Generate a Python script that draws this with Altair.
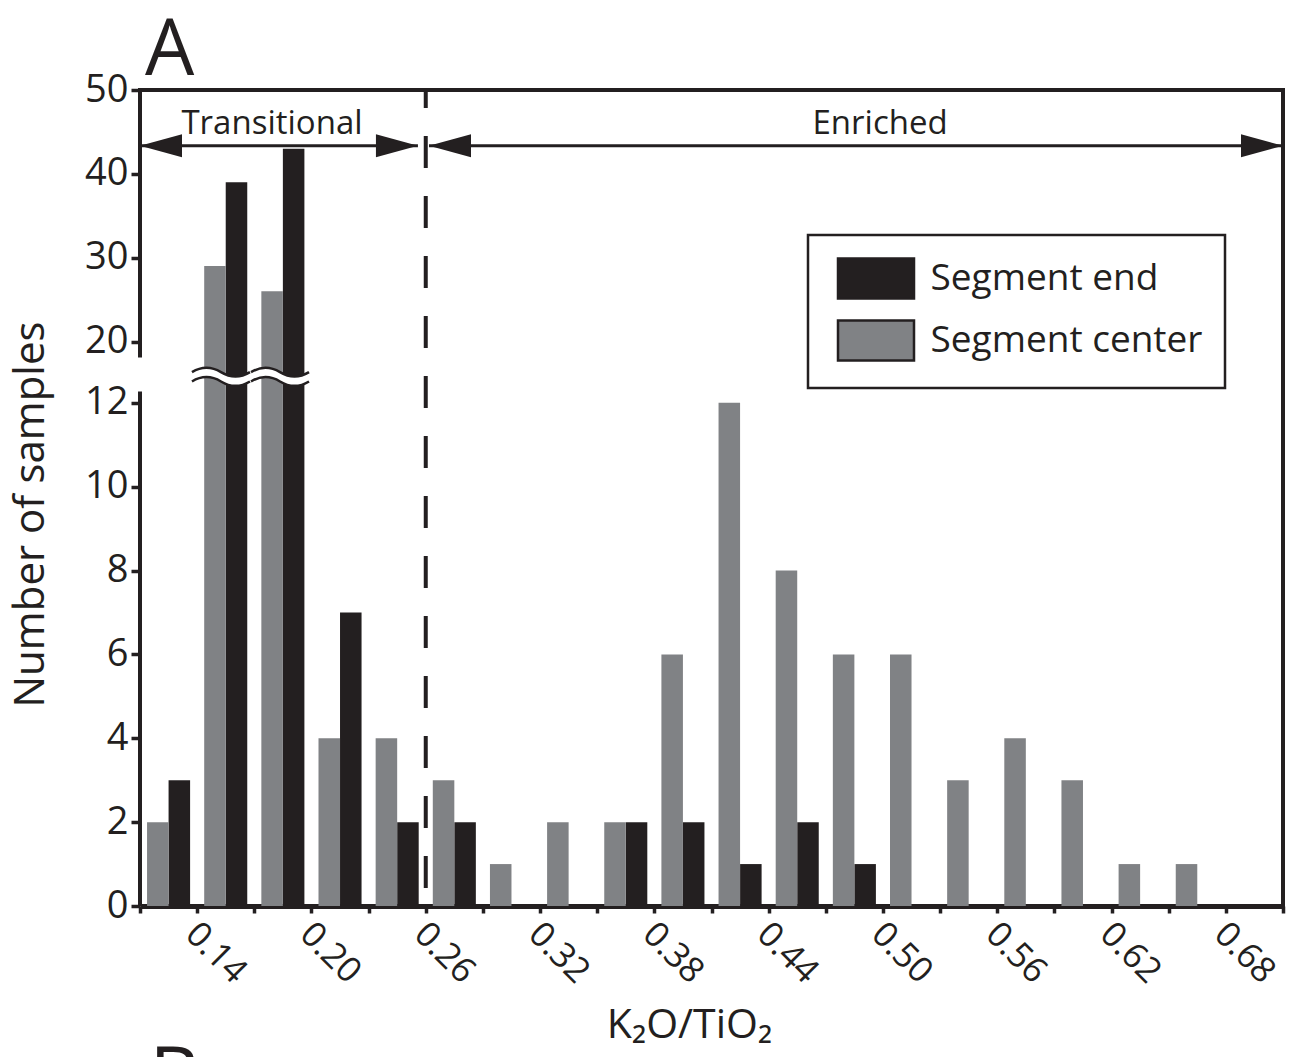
import altair as alt
import pandas as pd

# ---------------- data ----------------
bin_start = [0.11, 0.14, 0.17, 0.20, 0.23, 0.26, 0.29, 0.32, 0.35, 0.38,
             0.41, 0.44, 0.47, 0.50, 0.53, 0.56, 0.59, 0.62, 0.65, 0.68]
segment_end = [3, 39, 43, 7, 2, 2, 0, 0, 2, 2, 1, 2, 1, 0, 0, 0, 0, 0, 0, 0]
segment_center = [2, 29, 26, 4, 4, 3, 1, 2, 2, 6, 12, 8, 6, 6, 3, 4, 3, 1, 1, 0]
series_names = ["Segment end", "Segment center"]
series_colors = ["#231f20", "#808285"]
x_tick_labels = ["0.14", "0.20", "0.26", "0.32", "0.38", "0.44", "0.50", "0.56", "0.62", "0.68"]
y_lower_ticks = [0, 2, 4, 6, 8, 10, 12]
y_upper_ticks = [20, 30, 40, 50]
region_names = ["Transitional", "Enriched"]

# ---------------- layout constants ----------------
INK = "#231f20"
FONT = "Open Sans"
BIN = 0.03
BAR_W = 0.0113
X_MIN, X_MAX = 0.11, 0.71
BREAK_LO, BREAK_HI = 12, 20     # axis break between 12 and 20
UP0 = 13.46                     # display position of 20
UP_RATIO = 5                    # 5 counts per display unit above the break
Y_TOP = UP0 + (y_upper_ticks[-1] - BREAK_HI) / UP_RATIO

x_ticks = [round(X_MIN + BIN * i, 2) for i in range(21)]
y_tick_pos = y_lower_ticks + [UP0 + (v - BREAK_HI) / UP_RATIO for v in y_upper_ticks]

rows = []
for s, e, c in zip(bin_start, segment_end, segment_center):
    rows.append({"start": s, "series": series_names[0], "count": e})
    rows.append({"start": s, "series": series_names[1], "count": c})
df = pd.DataFrame(rows)

xs = alt.Scale(domain=[X_MIN, X_MAX], nice=False, zero=False)
ys = alt.Scale(domain=[0, Y_TOP], nice=False, zero=False)

label_list = "[" + ",".join("'" + t + "'" for t in x_tick_labels) + "]"
x_axis = alt.Axis(
    values=x_ticks,
    labelExpr=f"indexof({label_list}, format(datum.value, '.2f')) >= 0 ? format(datum.value, '.2f') : ''",
    labelAngle=45, labelAlign="left", labelBaseline="top",
    labelFontSize=35, labelPadding=3, labelOffset=6, labelColor=INK,
    labelOverlap=False, labelFlush=False,
    tickSize=7, tickWidth=3.5, tickColor=INK,
    domainColor=INK, domainWidth=5, grid=False,
    title="K₂O/TiO₂", titleFontSize=41, titleFontWeight="normal", titleColor=INK,
    titleX=549, titleY=131, titleAlign="center", titleBaseline="alphabetic",
)
y_axis = alt.Axis(
    values=y_tick_pos,
    labelExpr=(f"datum.value <= {BREAK_LO + 0.5} ? format(datum.value, 'd') : "
               f"format(round({BREAK_HI} + (datum.value - {UP0}) * {UP_RATIO}), 'd')"),
    domain=False, grid=False,
    tickSize=9, tickWidth=3.5, tickColor=INK,
    labelFontSize=38, labelPadding=3, labelColor=INK, labelOverlap=False, labelFlush=False,
    title="Number of samples", titleFontSize=42, titleFontWeight="normal", titleColor=INK,
    titleAngle=270, titleX=-97, titleY=424, titleAlign="center", titleBaseline="alphabetic",
)


def XD(v):
    return alt.XDatum(v, type="quantitative", scale=xs, axis=x_axis)


def YD(v):
    return alt.YDatum(v, type="quantitative", scale=ys, axis=y_axis)


one = pd.DataFrame({"k": [0]})

legend_rect = "M-1.9,-1 L1.9,-1 L1.9,1 L-1.9,1 Z"

bars = alt.Chart(df).transform_filter("datum.count > 0").transform_calculate(
    mid=f"datum.start + {BIN / 2}"
).transform_calculate(
    xb=f"datum.series == '{series_names[0]}' ? datum.mid + {BAR_W} : datum.mid - {BAR_W}",
    yd=(f"datum.count <= {BREAK_LO} ? datum.count : "
        f"{UP0} + (datum.count - {BREAK_HI}) / {UP_RATIO}"),
).mark_rect().encode(
    x=alt.X("mid:Q", scale=xs, axis=x_axis),
    x2="xb:Q",
    y=alt.Y("yd:Q", scale=ys, axis=y_axis),
    y2=alt.Y2Datum(0),
    color=alt.Color(
        "series:N",
        scale=alt.Scale(domain=series_names, range=series_colors),
        legend=alt.Legend(
            title=None, orient="none", legendX=668, legendY=145, padding=22,
            strokeColor=INK, fillColor="white",
            symbolType=legend_rect, symbolSize=1600, symbolStrokeColor=INK,
            symbolStrokeWidth=2.5, symbolOffset=24.5, symbolOpacity=1,
            labelFontSize=37, labelOffset=33, labelLimit=500, labelColor=INK,
            labelFont=FONT, rowPadding=11,
        ),
    ),
)

# axis break marks
break_x = [0.1525, 0.1835]
break_y = 12.62
wave_df = pd.DataFrame({"bx": break_x, "by": [break_y] * len(break_x)})
wave_fill = ("M-1,-0.16 C-0.67,-0.36 -0.33,-0.36 0,-0.16 C0.33,0.04 0.67,0.04 1,-0.16 "
             "L1,0.16 C0.67,0.36 0.33,0.36 0,0.16 C-0.33,-0.04 -0.67,-0.04 -1,0.16 Z")
wave_up = "M-1,-0.16 C-0.67,-0.36 -0.33,-0.36 0,-0.16 C0.33,0.04 0.67,0.04 1,-0.16"
wave_dn = "M-1,0.16 C-0.67,-0.04 -0.33,-0.04 0,0.16 C0.33,0.36 0.67,0.36 1,0.16"
wave_enc = dict(x=alt.X("bx:Q", scale=xs, axis=x_axis), y=alt.Y("by:Q", scale=ys, axis=y_axis))
waves = (
    alt.Chart(wave_df).mark_point(shape=wave_fill, size=3364, filled=True, fill="white",
                                  strokeWidth=0, opacity=1).encode(**wave_enc)
    + alt.Chart(wave_df).mark_point(shape=wave_up, size=3364, filled=False, stroke=INK,
                                    strokeWidth=2.5, opacity=1).encode(**wave_enc)
    + alt.Chart(wave_df).mark_point(shape=wave_dn, size=3364, filled=False, stroke=INK,
                                    strokeWidth=2.5, opacity=1).encode(**wave_enc)
)


# frame and broken left axis
def hrule(x1, x2, y, w=4, cap="square", **kw):
    return alt.Chart(one).mark_rule(color=INK, strokeWidth=w, strokeCap=cap, **kw).encode(
        x=XD(x1), x2=alt.X2Datum(x2), y=YD(y))


def vrule(x, y1, y2, w=4, cap="butt", **kw):
    return alt.Chart(one).mark_rule(color=INK, strokeWidth=w, strokeCap=cap, **kw).encode(
        x=XD(x), y=YD(y1), y2=alt.Y2Datum(y2))


frame = (
    hrule(X_MIN, X_MAX, Y_TOP)
    + vrule(X_MAX, 0, Y_TOP, cap="square")
    + vrule(X_MIN, 0, 12.27)
    + vrule(X_MIN, 13.08, Y_TOP)
)

divider = vrule(0.26, Y_TOP, 0, w=4, strokeDash=[32, 28], strokeDashOffset=14)

# arrows
ARROW_Y = 18.13
left_head = "M0,0 L2,-0.55 L2,0.55 Z"
right_head = "M0,0 L-2,-0.55 L-2,0.55 Z"


def head(x, shape):
    return alt.Chart(one).mark_point(shape=shape, size=1764, filled=True, fill=INK,
                                     strokeWidth=0, opacity=1).encode(x=XD(x), y=YD(ARROW_Y))


arrows = (
    hrule(X_MIN, 0.2559, ARROW_Y, w=3, cap="butt")
    + hrule(0.2617, X_MAX, ARROW_Y, w=3, cap="butt")
    + head(X_MIN, left_head) + head(0.2559, right_head)
    + head(0.2617, left_head) + head(X_MAX, right_head)
)


def label(text, x, y, size, align="center"):
    return alt.Chart(one).mark_text(text=text, fontSize=size, font=FONT, color=INK,
                                    align=align, baseline="alphabetic").encode(x=XD(x), y=YD(y))


texts = (
    label(region_names[0], 0.1793, 18.41, 33)
    + label(region_names[1], 0.4985, 18.41, 33)
    + label("A", 0.1126, 19.82, 78, align="left")
    + label("B", 0.1150, -4.70, 78, align="left")
)

chart = alt.layer(bars, waves, divider, frame, arrows, texts).properties(
    width=1143, height=816,
    padding={"left": 140, "top": 90, "right": 16, "bottom": 151},
    autosize=alt.AutoSizeParams(type="none"),
    background="white",
).configure(font=FONT).configure_view(stroke=None).configure_legend(strokeWidth=2.5)

chart.save("out.html", embed_options={"renderer": "svg", "actions": False})
